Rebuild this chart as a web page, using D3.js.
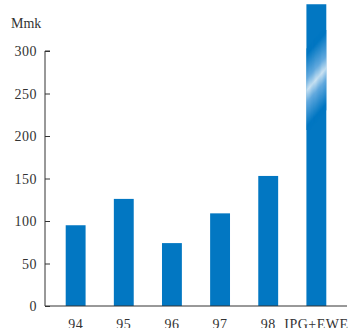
<!DOCTYPE html>
<html>
<head>
<meta charset="utf-8">
<script src="https://cdn.jsdelivr.net/npm/d3@7"></script>
</head>
<body style="margin:0;background:#fff">
<svg id="chart" width="357" height="328"></svg>
<script>
const categories = ['94', '95', '96', '97', '98', 'IPG+EWE'];
const values = [95, 126, 74, 109, 153, 355];
const yTicks = [0, 50, 100, 150, 200, 250, 300];
const unitLabel = 'Mmk';

const width = 357;
const height = 328;
const margin = { left: 45, right: 10, top: 51, bottom: 22 };
const blue = '#0277c2';
const font = '"Liberation Serif", "Times New Roman", serif';

const svg = d3.select('#chart');

const x = d3.scaleBand()
  .domain(categories)
  .range([margin.left, width - margin.right])
  .paddingInner(0.587)
  .paddingOuter(0.43);

const y = d3.scaleLinear()
  .domain([0, 300])
  .range([height - margin.bottom, margin.top]);

svg.append('g')
  .selectAll('rect')
  .data(categories)
  .join('rect')
    .attr('x', d => x(d))
    .attr('y', (d, i) => y(values[i]))
    .attr('width', x.bandwidth())
    .attr('height', (d, i) => y(0) - y(values[i]))
    .attr('fill', blue);

// the "break" on the tall bar: thin diagonal stripes fading to white
const lastBand = categories[categories.length - 1];
const bx = x(lastBand);
const bw = x.bandwidth();
const clip = svg.append('clipPath').attr('id', 'barClip');
clip.append('rect').attr('x', bx).attr('y', 30).attr('width', bw).attr('height', 100);

const cy = 79;        // centre of the white band
const slope = 1.15;   // rise per px across the bar
const fade = d3.scaleLinear()
  .domain([-36, -12, 0, 12, 36])
  .range([blue, '#7fb8e6', '#ffffff', '#7fb8e6', blue])
  .clamp(true);
const offsets = d3.range(-42, 43, 1);
svg.append('g')
  .attr('clip-path', 'url(#barClip)')
  .selectAll('path')
  .data(offsets)
  .join('path')
    .attr('d', o => {
      const yl = cy + o + slope * (bw / 2 + 1);
      const yr = cy + o - slope * (bw / 2 + 1);
      return `M${bx - 1},${yl}L${bx + bw + 1},${yr}L${bx + bw + 1},${yr + 1.1}L${bx - 1},${yl + 1.1}Z`;
    })
    .attr('fill', o => fade(o));

// y axis
const yAxis = svg.append('g')
  .attr('transform', `translate(${margin.left},0)`)
  .call(d3.axisRight(y).tickValues(yTicks).tickSize(5).tickFormat(d3.format('d')));
yAxis.select('.domain').attr('d', `M5,${y(300)}H0V${y(0)}`).attr('stroke', '#333');
yAxis.selectAll('.tick line').attr('stroke', '#333');
yAxis.selectAll('.tick text')
  .attr('x', -8)
  .attr('dy', '0.35em')
  .attr('text-anchor', 'end')
  .attr('font-family', font)
  .attr('font-size', 14)
  .attr('fill', '#333')
  .attr('letter-spacing', 0.5);

// x axis
const xAxis = svg.append('g')
  .attr('transform', `translate(0,${y(0)})`)
  .call(d3.axisBottom(x).tickSize(0).tickPadding(0));
xAxis.select('.domain').attr('d', `M${margin.left},0H${width - margin.right}`).attr('stroke', '#333');
xAxis.selectAll('.tick text')
  .attr('y', 23)
  .attr('dy', 0)
  .attr('font-family', font)
  .attr('font-size', 14)
  .attr('fill', '#333')
  .attr('letter-spacing', 0.5);

svg.append('text')
  .attr('x', 11)
  .attr('y', 28)
  .attr('font-family', font)
  .attr('font-size', 14)
  .attr('fill', '#333')
  .text(unitLabel);
</script>
</body>
</html>
